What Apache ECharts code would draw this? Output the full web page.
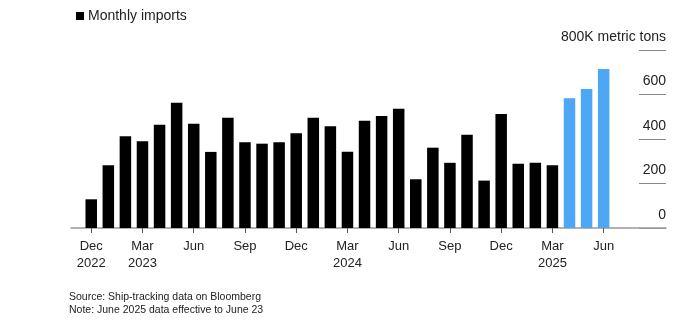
<!DOCTYPE html>
<html>
<head>
<meta charset="utf-8">
<script src="https://cdn.jsdelivr.net/npm/echarts@6/dist/echarts.min.js"></script>
<style>
  html, body { margin: 0; padding: 0; background: #fff; }
  #chart { width: 700px; height: 329px; }
</style>
</head>
<body>
<div id="chart"></div>
<script>
// Monthly imports, thousand metric tons, Dec 2022 – Jun 2025
const months = [
  'Dec 2022',
  'Jan 2023', 'Feb 2023', 'Mar 2023', 'Apr 2023', 'May 2023', 'Jun 2023',
  'Jul 2023', 'Aug 2023', 'Sep 2023', 'Oct 2023', 'Nov 2023', 'Dec 2023',
  'Jan 2024', 'Feb 2024', 'Mar 2024', 'Apr 2024', 'May 2024', 'Jun 2024',
  'Jul 2024', 'Aug 2024', 'Sep 2024', 'Oct 2024', 'Nov 2024', 'Dec 2024',
  'Jan 2025', 'Feb 2025', 'Mar 2025', 'Apr 2025', 'May 2025', 'Jun 2025'
];
const imports = [
  129,
  282, 412, 390, 464, 563, 469,
  342, 496, 385, 379, 385, 426,
  496, 457, 343, 482, 503, 536,
  219, 361, 293, 419, 213, 512,
  289, 293, 282, 583, 625, 715
];
// Latest months drawn in blue
const highlightedMonths = ['Apr 2025', 'May 2025', 'Jun 2025'];
const labeledMonths = ['Dec', 'Mar', 'Jun', 'Sep'];
const yTicks = [0, 200, 400, 600, 800];
const yUnit = 'K metric tons';

const FONT = '"Liberation Sans", Arial, sans-serif';
const TOP = 50, BOTTOM = 101;
const BLACK = '#000', BLUE = '#4ea7f4';

function isLabeled(i) {
  return labeledMonths.indexOf(months[i].split(' ')[0]) >= 0;
}

const chart = echarts.init(document.getElementById('chart'), null, { renderer: 'canvas' });

chart.setOption({
  animation: false,
  textStyle: { fontFamily: FONT },
  legend: {
    left: 71, top: 4,
    icon: 'rect', itemWidth: 8, itemHeight: 8, itemGap: 10,
    textStyle: { fontSize: 14, color: '#222', fontFamily: FONT, padding: [0, 0, 0, -1] },
    data: [{ name: 'Monthly imports', itemStyle: { color: BLACK, borderWidth: 0 } }]
  },
  grid: [
    { left: 82.7, width: 529.5, top: TOP, bottom: BOTTOM },
    { left: 71, width: 595, top: TOP, bottom: BOTTOM },
    { left: 639, width: 27, top: TOP, bottom: BOTTOM }
  ],
  xAxis: [
    {
      type: 'category', gridIndex: 0, data: months,
      axisLine: { show: false },
      axisTick: {
        show: true, alignWithLabel: true, length: 5,
        interval: (i) => isLabeled(i),
        lineStyle: { color: '#555' }
      },
      axisLabel: {
        interval: (i) => isLabeled(i),
        margin: 10, fontSize: 13, lineHeight: 17, color: '#222',
        formatter: (v, i) => {
          const [m, y] = v.split(' ');
          return (i === 0 || m === 'Mar') ? m + '\n' + y : m;
        }
      }
    },
    {
      type: 'value', gridIndex: 1, min: 0, max: 1,
      axisLine: { show: true, lineStyle: { color: '#999', width: 1.5 } },
      axisTick: { show: false }, axisLabel: { show: false }, splitLine: { show: false }
    },
    {
      type: 'value', gridIndex: 2, min: 0, max: 1, show: false
    }
  ],
  yAxis: [
    { type: 'value', gridIndex: 0, min: 0, max: 800, show: false },
    { type: 'value', gridIndex: 1, min: 0, max: 800, show: false },
    {
      type: 'value', gridIndex: 2, position: 'right',
      min: yTicks[0], max: yTicks[yTicks.length - 1], interval: yTicks[1] - yTicks[0],
      axisLine: { show: false }, axisTick: { show: false },
      splitLine: { show: true, lineStyle: { color: '#888', width: 1 } },
      axisLabel: {
        inside: true, margin: 0, align: 'right', verticalAlign: 'bottom',
        padding: [0, 0, 6, 0],
        fontSize: 14, color: '#222',
        formatter: (v) => v === yTicks[yTicks.length - 1] ? v + yUnit : String(v)
      }
    }
  ],
  series: [
    {
      name: 'Monthly imports', type: 'bar',
      xAxisIndex: 0, yAxisIndex: 0,
      barWidth: 11.5,
      data: imports,
      itemStyle: {
        color: (p) => highlightedMonths.indexOf(months[p.dataIndex]) >= 0 ? BLUE : BLACK
      }
    }
  ],
  graphic: [
    {
      type: 'text', left: 69, top: 292,
      style: { text: 'Source: Ship-tracking data on Bloomberg', fontSize: 10.5, fill: '#222', fontFamily: FONT }
    },
    {
      type: 'text', left: 69, top: 305,
      style: { text: 'Note: June 2025 data effective to June 23', fontSize: 10.5, fill: '#222', fontFamily: FONT }
    }
  ]
});
</script>
</body>
</html>
